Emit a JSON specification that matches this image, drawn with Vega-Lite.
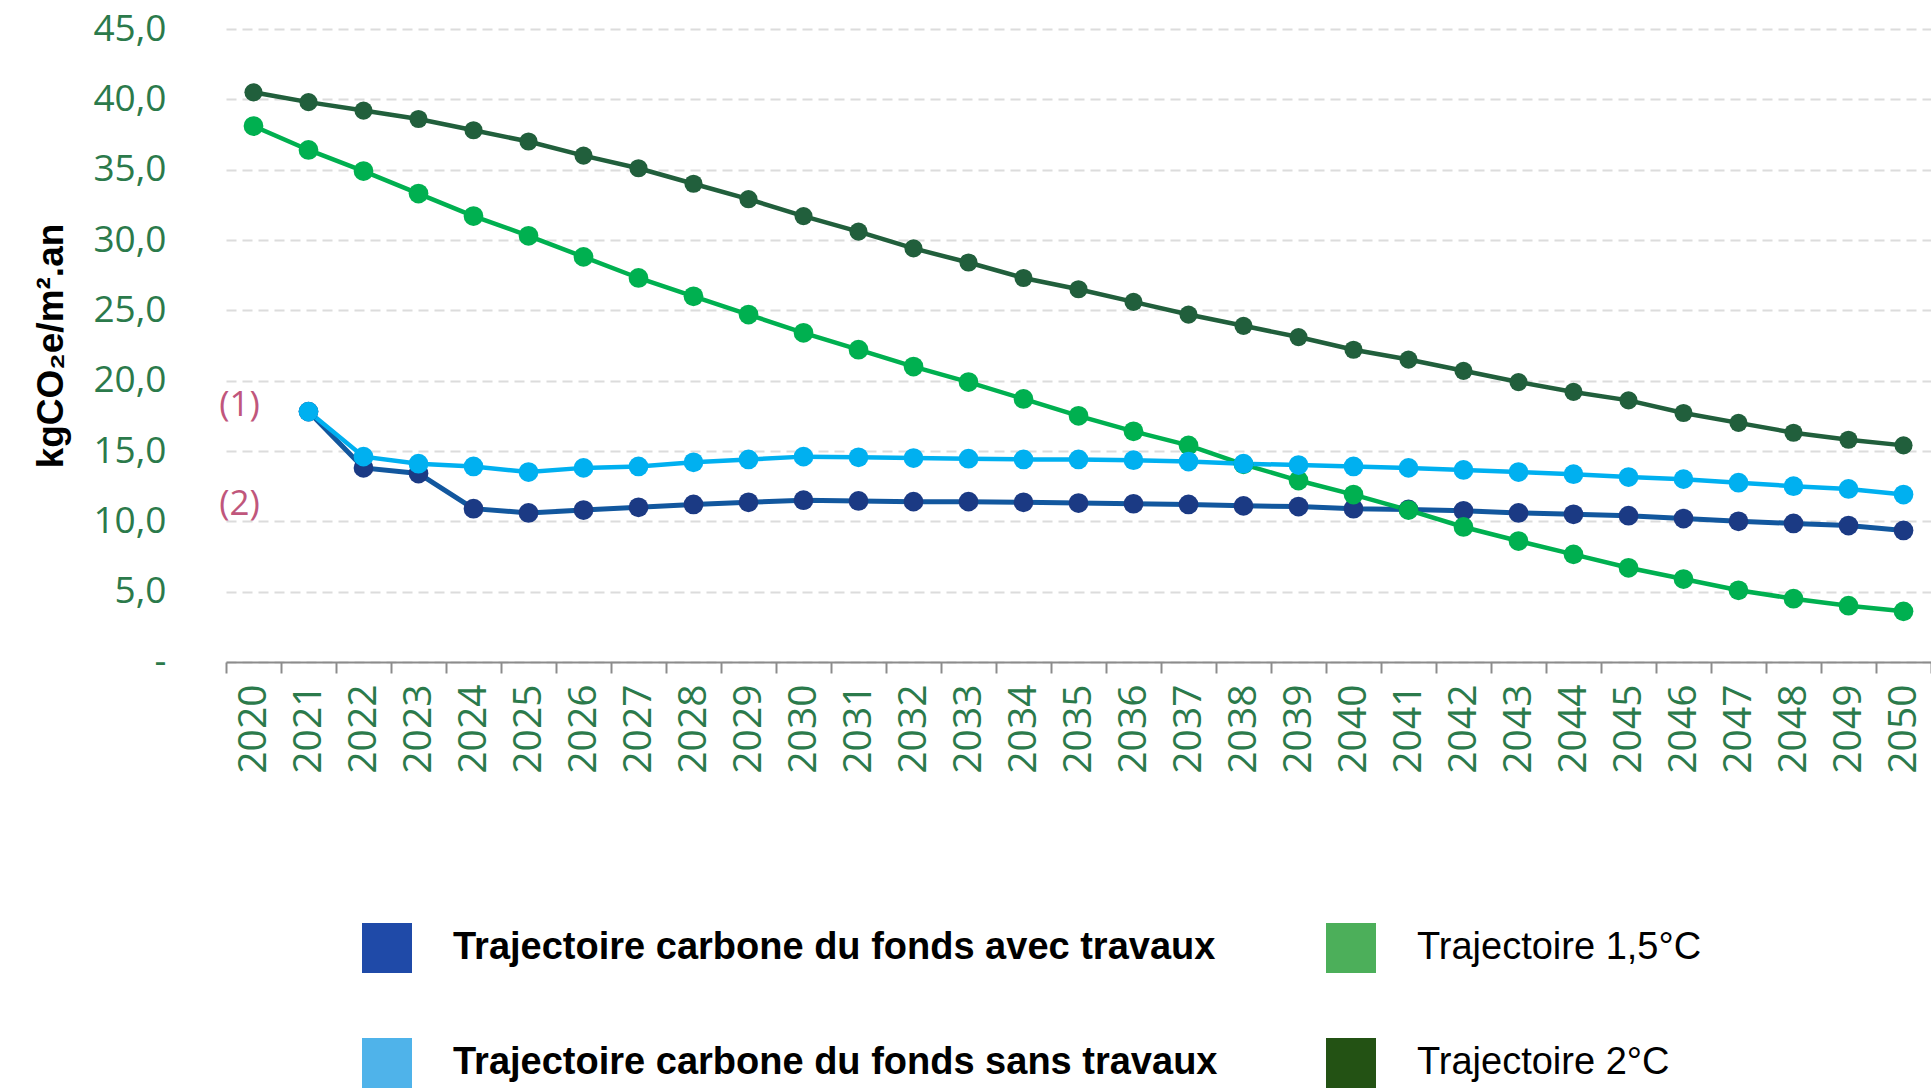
{
  "$schema": "https://vega.github.io/schema/vega-lite/v6.json",
  "width": 1705,
  "height": 633,
  "autosize": "none",
  "padding": {"left": 226, "top": 29, "right": 0, "bottom": 427},
  "background": "white",
  "config": {"view": {"stroke": null}},
  "datasets": {
    "series": [
      {"year": 2021, "series": "avec", "value": 17.8},
      {"year": 2022, "series": "avec", "value": 13.8},
      {"year": 2023, "series": "avec", "value": 13.4},
      {"year": 2024, "series": "avec", "value": 10.9},
      {"year": 2025, "series": "avec", "value": 10.6},
      {"year": 2026, "series": "avec", "value": 10.8},
      {"year": 2027, "series": "avec", "value": 11.0},
      {"year": 2028, "series": "avec", "value": 11.2},
      {"year": 2029, "series": "avec", "value": 11.35},
      {"year": 2030, "series": "avec", "value": 11.5},
      {"year": 2031, "series": "avec", "value": 11.45},
      {"year": 2032, "series": "avec", "value": 11.4},
      {"year": 2033, "series": "avec", "value": 11.4},
      {"year": 2034, "series": "avec", "value": 11.35},
      {"year": 2035, "series": "avec", "value": 11.3},
      {"year": 2036, "series": "avec", "value": 11.25},
      {"year": 2037, "series": "avec", "value": 11.2},
      {"year": 2038, "series": "avec", "value": 11.1},
      {"year": 2039, "series": "avec", "value": 11.05},
      {"year": 2040, "series": "avec", "value": 10.9},
      {"year": 2041, "series": "avec", "value": 10.85},
      {"year": 2042, "series": "avec", "value": 10.75},
      {"year": 2043, "series": "avec", "value": 10.6},
      {"year": 2044, "series": "avec", "value": 10.5},
      {"year": 2045, "series": "avec", "value": 10.4},
      {"year": 2046, "series": "avec", "value": 10.2},
      {"year": 2047, "series": "avec", "value": 10.0},
      {"year": 2048, "series": "avec", "value": 9.85},
      {"year": 2049, "series": "avec", "value": 9.7},
      {"year": 2050, "series": "avec", "value": 9.35},
      {"year": 2020, "series": "t2", "value": 40.5},
      {"year": 2021, "series": "t2", "value": 39.8},
      {"year": 2022, "series": "t2", "value": 39.2},
      {"year": 2023, "series": "t2", "value": 38.6},
      {"year": 2024, "series": "t2", "value": 37.8},
      {"year": 2025, "series": "t2", "value": 37.0},
      {"year": 2026, "series": "t2", "value": 36.0},
      {"year": 2027, "series": "t2", "value": 35.1},
      {"year": 2028, "series": "t2", "value": 34.0},
      {"year": 2029, "series": "t2", "value": 32.9},
      {"year": 2030, "series": "t2", "value": 31.7},
      {"year": 2031, "series": "t2", "value": 30.6},
      {"year": 2032, "series": "t2", "value": 29.4},
      {"year": 2033, "series": "t2", "value": 28.4},
      {"year": 2034, "series": "t2", "value": 27.3},
      {"year": 2035, "series": "t2", "value": 26.5},
      {"year": 2036, "series": "t2", "value": 25.6},
      {"year": 2037, "series": "t2", "value": 24.7},
      {"year": 2038, "series": "t2", "value": 23.9},
      {"year": 2039, "series": "t2", "value": 23.1},
      {"year": 2040, "series": "t2", "value": 22.2},
      {"year": 2041, "series": "t2", "value": 21.5},
      {"year": 2042, "series": "t2", "value": 20.7},
      {"year": 2043, "series": "t2", "value": 19.9},
      {"year": 2044, "series": "t2", "value": 19.2},
      {"year": 2045, "series": "t2", "value": 18.6},
      {"year": 2046, "series": "t2", "value": 17.7},
      {"year": 2047, "series": "t2", "value": 17.0},
      {"year": 2048, "series": "t2", "value": 16.3},
      {"year": 2049, "series": "t2", "value": 15.8},
      {"year": 2050, "series": "t2", "value": 15.4},
      {"year": 2020, "series": "t15", "value": 38.1},
      {"year": 2021, "series": "t15", "value": 36.4},
      {"year": 2022, "series": "t15", "value": 34.9},
      {"year": 2023, "series": "t15", "value": 33.3},
      {"year": 2024, "series": "t15", "value": 31.7},
      {"year": 2025, "series": "t15", "value": 30.3},
      {"year": 2026, "series": "t15", "value": 28.8},
      {"year": 2027, "series": "t15", "value": 27.3},
      {"year": 2028, "series": "t15", "value": 26.0},
      {"year": 2029, "series": "t15", "value": 24.7},
      {"year": 2030, "series": "t15", "value": 23.4},
      {"year": 2031, "series": "t15", "value": 22.2},
      {"year": 2032, "series": "t15", "value": 21.0},
      {"year": 2033, "series": "t15", "value": 19.9},
      {"year": 2034, "series": "t15", "value": 18.7},
      {"year": 2035, "series": "t15", "value": 17.5},
      {"year": 2036, "series": "t15", "value": 16.4},
      {"year": 2037, "series": "t15", "value": 15.4},
      {"year": 2038, "series": "t15", "value": 14.05},
      {"year": 2039, "series": "t15", "value": 12.9},
      {"year": 2040, "series": "t15", "value": 11.9},
      {"year": 2041, "series": "t15", "value": 10.8},
      {"year": 2042, "series": "t15", "value": 9.6},
      {"year": 2043, "series": "t15", "value": 8.6},
      {"year": 2044, "series": "t15", "value": 7.65},
      {"year": 2045, "series": "t15", "value": 6.7},
      {"year": 2046, "series": "t15", "value": 5.9},
      {"year": 2047, "series": "t15", "value": 5.1},
      {"year": 2048, "series": "t15", "value": 4.5},
      {"year": 2049, "series": "t15", "value": 4.0},
      {"year": 2050, "series": "t15", "value": 3.6},
      {"year": 2021, "series": "sans", "value": 17.8},
      {"year": 2022, "series": "sans", "value": 14.6},
      {"year": 2023, "series": "sans", "value": 14.1},
      {"year": 2024, "series": "sans", "value": 13.9},
      {"year": 2025, "series": "sans", "value": 13.5},
      {"year": 2026, "series": "sans", "value": 13.8},
      {"year": 2027, "series": "sans", "value": 13.9},
      {"year": 2028, "series": "sans", "value": 14.2},
      {"year": 2029, "series": "sans", "value": 14.4},
      {"year": 2030, "series": "sans", "value": 14.6},
      {"year": 2031, "series": "sans", "value": 14.55},
      {"year": 2032, "series": "sans", "value": 14.5},
      {"year": 2033, "series": "sans", "value": 14.45},
      {"year": 2034, "series": "sans", "value": 14.4},
      {"year": 2035, "series": "sans", "value": 14.4},
      {"year": 2036, "series": "sans", "value": 14.35},
      {"year": 2037, "series": "sans", "value": 14.25},
      {"year": 2038, "series": "sans", "value": 14.1},
      {"year": 2039, "series": "sans", "value": 14.0},
      {"year": 2040, "series": "sans", "value": 13.9},
      {"year": 2041, "series": "sans", "value": 13.8},
      {"year": 2042, "series": "sans", "value": 13.65},
      {"year": 2043, "series": "sans", "value": 13.5},
      {"year": 2044, "series": "sans", "value": 13.35},
      {"year": 2045, "series": "sans", "value": 13.15},
      {"year": 2046, "series": "sans", "value": 13.0},
      {"year": 2047, "series": "sans", "value": 12.75},
      {"year": 2048, "series": "sans", "value": 12.5},
      {"year": 2049, "series": "sans", "value": 12.3},
      {"year": 2050, "series": "sans", "value": 11.9}
    ],
    "notes": [
      {"year": 2020, "value": 18.3, "label": "(1)"},
      {"year": 2020, "value": 11.2, "label": "(2)"}
    ]
  },
  "encoding": {
    "x": {
      "field": "year",
      "type": "ordinal",
      "scale": {"type": "band", "paddingInner": 0, "paddingOuter": 0, "domain": [2020,2021,2022,2023,2024,2025,2026,2027,2028,2029,2030,2031,2032,2033,2034,2035,2036,2037,2038,2039,2040,2041,2042,2043,2044,2045,2046,2047,2048,2049,2050]},
      "axis": {
        "title": null,
        "labelAngle": -90,
        "labelFont": "Open Sans",
        "labelFontSize": 39,
        "labelColor": "#2b7a4b",
        "tickBand": "extent",
        "tickSize": 11,
        "tickColor": "#8c8c8c",
        "tickWidth": 2,
        "domainColor": "#8c8c8c",
        "domainWidth": 2,
        "labelPadding": 11,
        "grid": false
      }
    },
    "y": {
      "field": "value",
      "type": "quantitative",
      "scale": {"domain": [0, 45], "nice": false},
      "axis": {
        "values": [0, 5, 10, 15, 20, 25, 30, 35, 40, 45],
        "labelExpr": "datum.value == 0 ? '-' : replace(format(datum.value, '.1f'), '.', ',')",
        "labelFont": "Open Sans",
        "labelFontSize": 37,
        "labelColor": "#2b7a4b",
        "ticks": false,
        "domain": false,
        "labelPadding": 60,
        "grid": true,
        "gridColor": "#dcdcdc",
        "gridDash": [10, 6],
        "gridWidth": 2,
        "title": "kgCO₂e/m².an",
        "titleFont": "Liberation Sans",
        "titleFontSize": 37,
        "titleFontWeight": "bold",
        "titleColor": "black",
        "titlePadding": 22
      }
    }
  },
  "layer": [
    {
      "data": {"name": "series"},
      "transform": [{"filter": "datum.series == 'avec'"}],
      "mark": {"type": "line", "strokeWidth": 5, "color": "#12579e"}
    },
    {
      "data": {"name": "series"},
      "transform": [{"filter": "datum.series == 't2'"}],
      "mark": {"type": "line", "strokeWidth": 4.5, "color": "#215f3c"}
    },
    {
      "data": {"name": "series"},
      "transform": [{"filter": "datum.series == 't15'"}],
      "mark": {"type": "line", "strokeWidth": 4.5, "color": "#00b050"}
    },
    {
      "data": {"name": "series"},
      "transform": [{"filter": "datum.series == 'sans'"}],
      "mark": {"type": "line", "strokeWidth": 4.5, "color": "#00b0f0"}
    },
    {
      "data": {"name": "series"},
      "transform": [{"filter": "datum.series == 'avec'"}],
      "mark": {"type": "point", "filled": true, "size": 390, "opacity": 1, "color": "#1b3a84"}
    },
    {
      "data": {"name": "series"},
      "transform": [{"filter": "datum.series == 't2'"}],
      "mark": {"type": "point", "filled": true, "size": 330, "opacity": 1, "color": "#215f3c"}
    },
    {
      "data": {"name": "series"},
      "transform": [{"filter": "datum.series == 't15'"}],
      "mark": {"type": "point", "filled": true, "size": 390, "opacity": 1, "color": "#00b050"}
    },
    {
      "data": {"name": "series"},
      "transform": [{"filter": "datum.series == 'sans'"}],
      "mark": {"type": "point", "filled": true, "size": 390, "opacity": 1, "color": "#00b0f0"}
    },
    {
      "data": {"name": "series"},
      "mark": {"type": "point", "filled": true, "size": 10, "opacity": 0},
      "encoding": {
        "color": {
          "field": "series",
          "type": "nominal",
          "scale": {"domain": ["avec", "sans", "t15", "t2"], "range": ["#1f4aa8", "#4fb3ea", "#4caf5a", "#235214"]},
          "legend": {
            "title": null,
            "orient": "none",
            "legendX": 136,
            "legendY": 894,
            "columns": 2,
            "padding": 0,
            "symbolType": "square",
            "symbolSize": 2500,
            "symbolStrokeWidth": 0,
            "symbolOpacity": 1,
            "labelFont": "Liberation Sans",
            "labelFontSize": 38,
            "labelColor": "black",
            "labelFontWeight": {"expr": "datum.value == 'avec' || datum.value == 'sans' ? 'bold' : 'normal'"},
            "labelOffset": 41,
            "columnPadding": 108,
            "rowPadding": 65,
            "labelLimit": 2000,
            "labelExpr": "datum.value == 'avec' ? 'Trajectoire carbone du fonds avec travaux' : datum.value == 't15' ? 'Trajectoire 1,5°C' : datum.value == 'sans' ? 'Trajectoire carbone du fonds sans travaux' : 'Trajectoire 2°C'"
          }
        }
      }
    },
    {
      "data": {"name": "notes"},
      "mark": {"type": "text", "font": "Open Sans", "fontSize": 35, "color": "#c0567c", "dx": -14, "align": "center", "baseline": "middle"},
      "encoding": {"text": {"field": "label"}}
    }
  ]
}
